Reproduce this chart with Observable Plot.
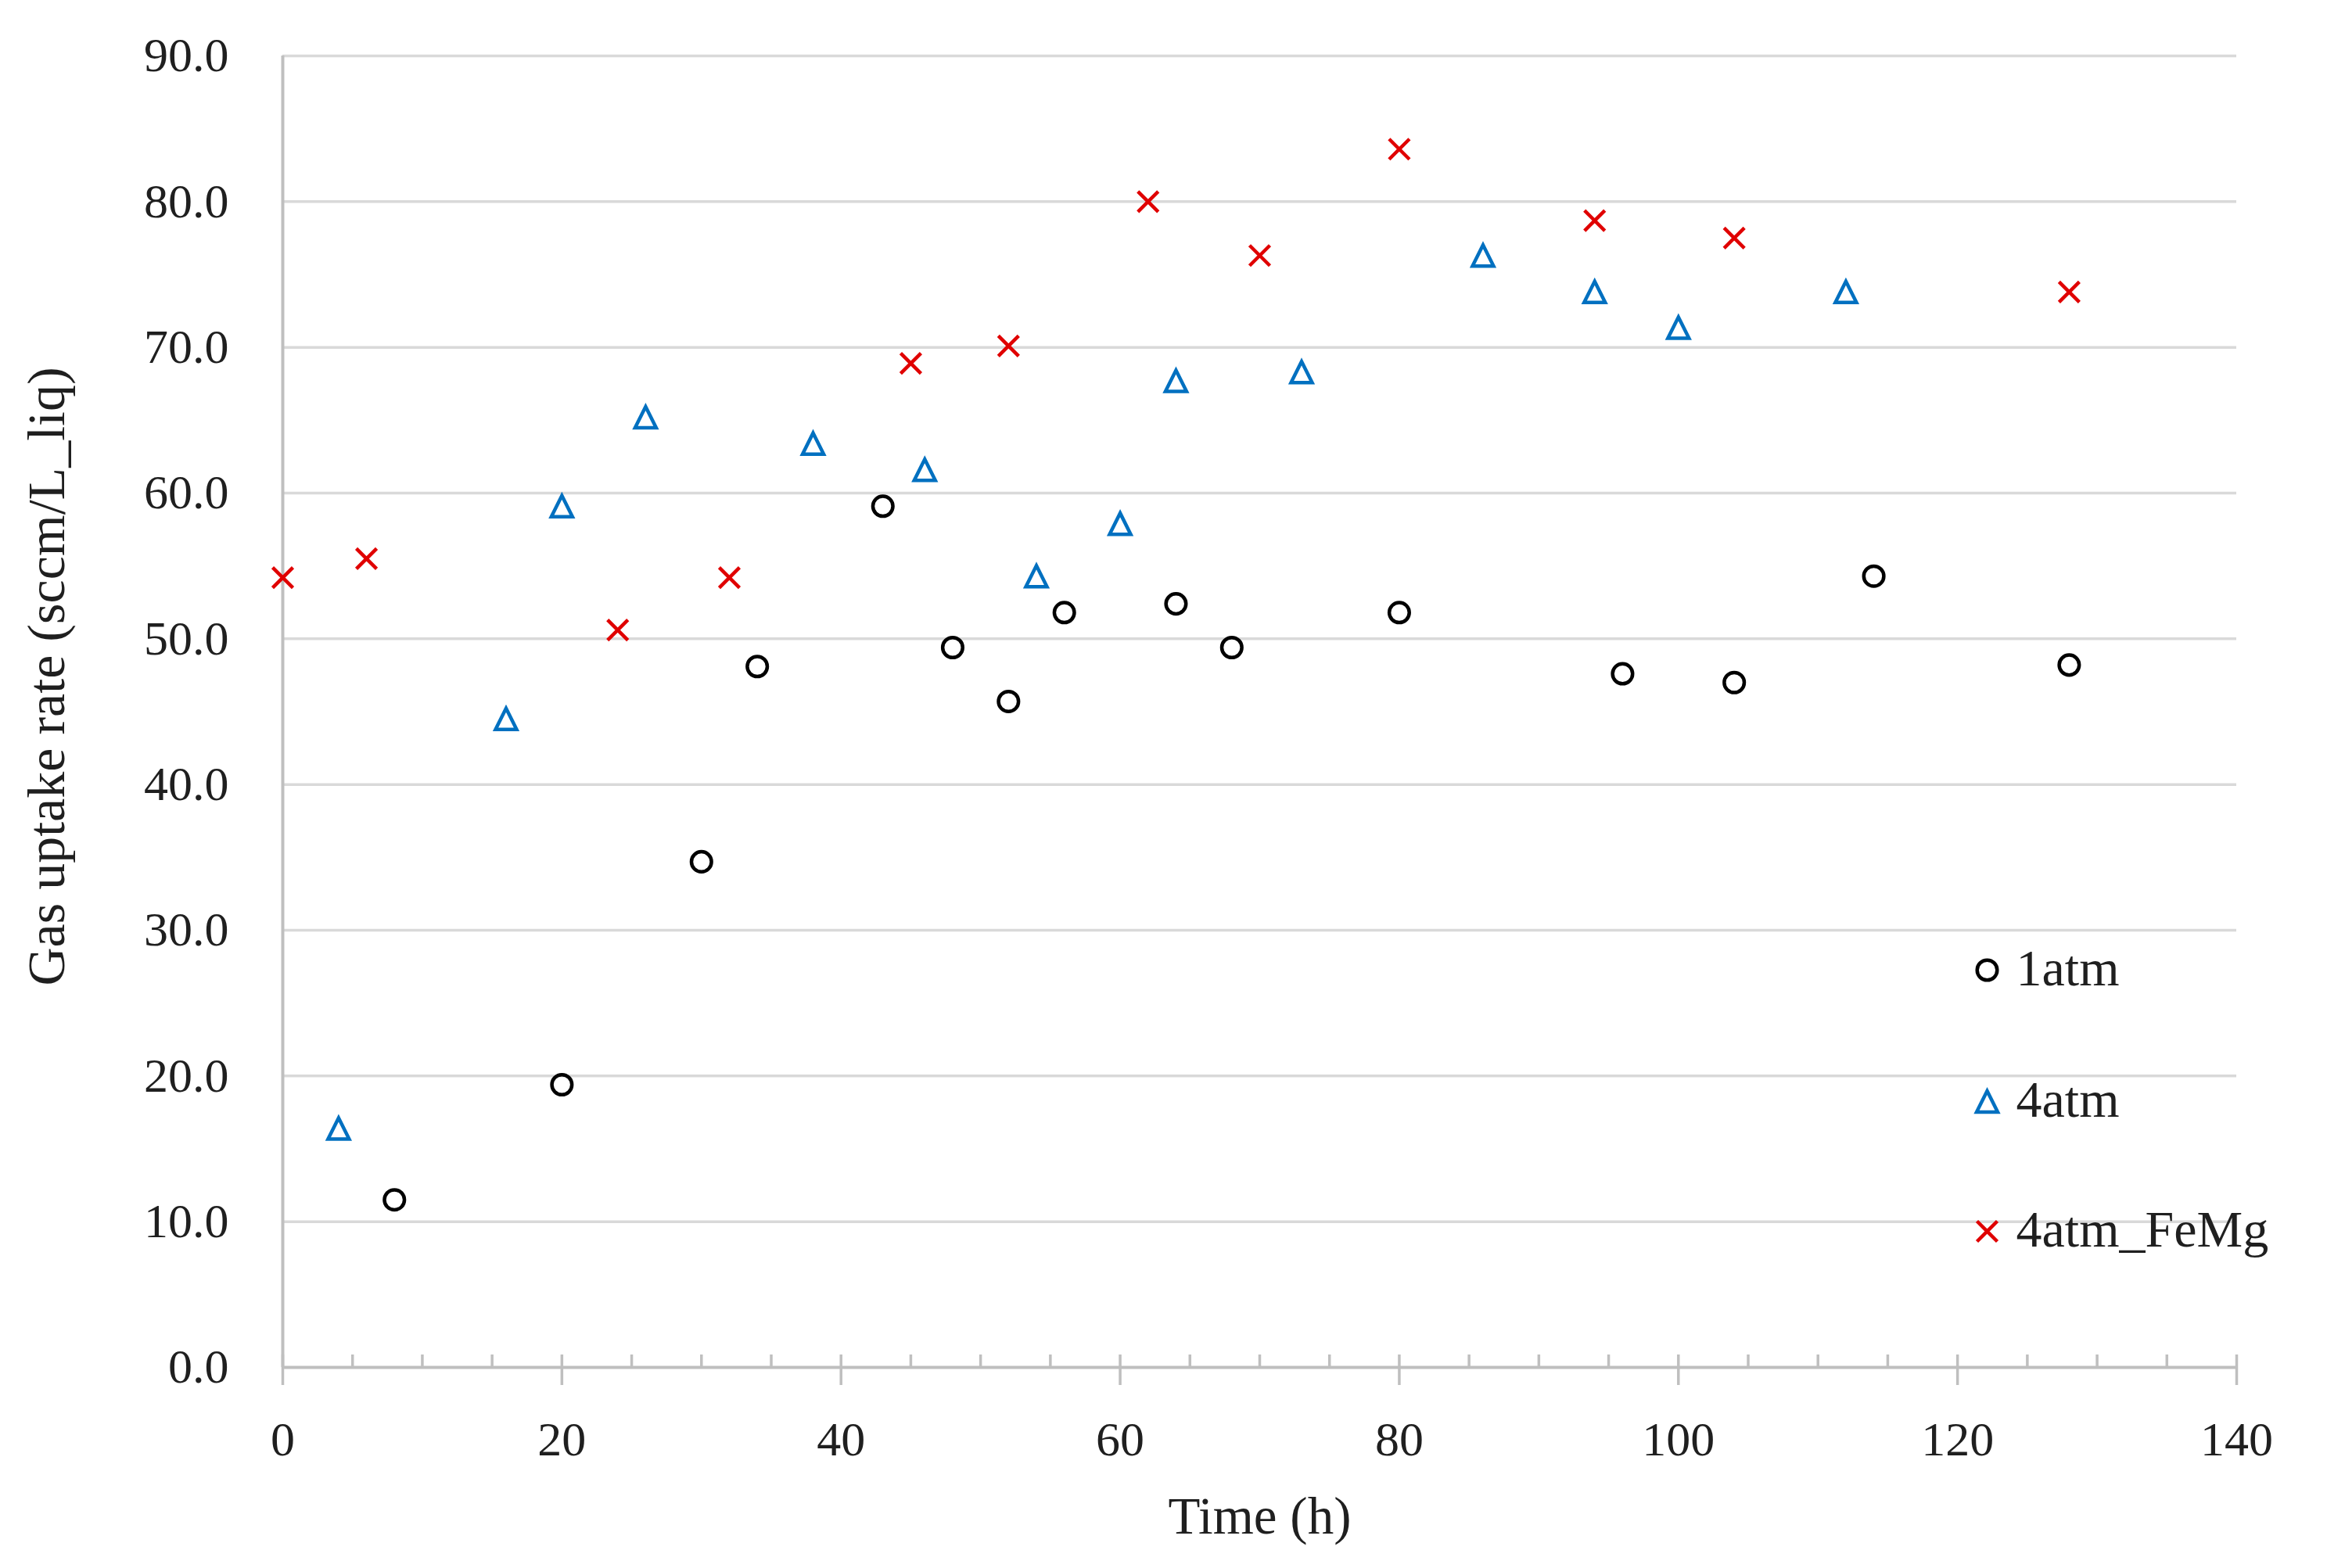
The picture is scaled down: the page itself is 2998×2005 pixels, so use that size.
<!DOCTYPE html>
<html>
<head>
<meta charset="utf-8">
<script src="https://cdn.jsdelivr.net/npm/d3@7"></script>
<script src="https://cdn.jsdelivr.net/npm/@observablehq/plot@0.6"></script>
<style>
  html, body { margin: 0; padding: 0; background: #ffffff; }
  #chart svg { display: block; }
</style>
</head>
<body>
<div id="chart"></div>
<script>
// ---- data ----
const seriesNames = ["1atm", "4atm", "4atm_FeMg"];

const time1atm = [8, 20, 30, 34, 43, 48, 52, 56, 64, 68, 80, 96, 104, 114, 128];
const rate1atm = [11.5, 19.4, 34.7, 48.1, 59.1, 49.4, 45.7, 51.8, 52.4, 49.4, 51.8, 47.6, 47.0, 54.3, 48.2];

const time4atm = [4, 16, 20, 26, 38, 46, 54, 60, 64, 73, 86, 94, 100, 112];
const rate4atm = [16.4, 44.5, 59.1, 65.2, 63.4, 61.6, 54.3, 57.9, 67.7, 68.3, 76.3, 73.8, 71.35, 73.8];

const timeFeMg = [0, 6, 24, 32, 45, 52, 62, 70, 80, 94, 104, 128];
const rateFeMg = [54.2, 55.5, 50.6, 54.2, 68.9, 70.1, 80.0, 76.3, 83.6, 78.7, 77.5, 73.8];

const xMajorTicks = [0, 20, 40, 60, 80, 100, 120, 140];
const xMinorTicks = [5, 10, 15, 25, 30, 35, 45, 50, 55, 65, 70, 75, 85, 90, 95, 105, 110, 115, 125, 130, 135];
const yTicks = [0, 10, 20, 30, 40, 50, 60, 70, 80, 90];
const xTitle = "Time (h)";
const yTitle = "Gas uptake rate (sccm/L_liq)";

// ---- tables ----
const toRows = (xs, ys, s) => xs.map((x, i) => ({time: x, rate: ys[i], series: s}));
const rows1 = toRows(time1atm, rate1atm, seriesNames[0]);
const rows4 = toRows(time4atm, rate4atm, seriesNames[1]);
const rowsFe = toRows(timeFeMg, rateFeMg, seriesNames[2]);

// ---- custom symbols (Excel-like markers) ----
const triangleSym = {
  draw(ctx, size) {
    const h = Math.sqrt(size / Math.PI);
    ctx.moveTo(0, -h);
    ctx.lineTo(h, h);
    ctx.lineTo(-h, h);
    ctx.closePath();
  }
};
const timesSym = {
  draw(ctx, size) {
    const h = Math.sqrt(size / Math.PI);
    ctx.moveTo(-h, -h);
    ctx.lineTo(h, h);
    ctx.moveTo(-h, h);
    ctx.lineTo(h, -h);
  }
};

// ---- layout / style ----
const W = 2998, H = 2005;
const mL = 361, mR = 139, mT = 71, mB = 257;
const frameH = H - mT - mB;
const gridColor = "#d9d9d9";
const axisColor = "#bfbfbf";
const textColor = "#1f1f1f";
const c1 = "#000000", c4 = "#0070c0", cFe = "#e00000";
const sw = 4.5;

const markerStyles = [
  {symbol: "circle", stroke: c1, r: 12.8},
  {symbol: triangleSym, stroke: c4, r: 13.5},
  {symbol: timesSym, stroke: cFe, r: 13}
];
const legendDy = [1169, 1337, 1503];

const legendMarks = seriesNames.flatMap((name, i) => [
  Plot.dot([name], {
    frameAnchor: "top-left", dx: 2179, dy: legendDy[i],
    symbol: markerStyles[i].symbol, r: markerStyles[i].r,
    stroke: markerStyles[i].stroke, fill: "none", strokeWidth: sw, strokeLinejoin: "miter"
  }),
  Plot.text([name], {
    text: d => d, frameAnchor: "top-left", dx: 2216, dy: legendDy[i] - 2,
    textAnchor: "start", lineAnchor: "middle", fontSize: 66, fill: textColor
  })
]);

const chart = Plot.plot({
  width: W,
  height: H,
  marginLeft: mL,
  marginRight: mR,
  marginTop: mT,
  marginBottom: mB,
  x: {domain: [0, 140]},
  y: {domain: [0, 90]},
  style: {
    fontFamily: "'Liberation Serif', 'Times New Roman', serif",
    fontSize: "62px",
    color: textColor,
    background: "#ffffff"
  },
  marks: [
    Plot.ruleY(yTicks.filter(d => d > 0), {y: d => d, stroke: gridColor, strokeWidth: 3.5}),
    Plot.ruleX(xMinorTicks, {x: d => d, stroke: axisColor, strokeWidth: 3.5, insetTop: frameH - 16}),
    Plot.ruleX(xMajorTicks, {x: d => d, stroke: axisColor, strokeWidth: 3.5, insetTop: frameH - 16, insetBottom: -23}),
    Plot.ruleX([0], {x: d => d, stroke: axisColor, strokeWidth: 4}),
    Plot.ruleY([0], {y: d => d, stroke: axisColor, strokeWidth: 4}),
    Plot.axisY({ticks: yTicks, tickSize: 0, tickPadding: 69, tickFormat: d3.format(".1f"), label: null, fill: textColor}),
    Plot.axisX({ticks: xMajorTicks, tickSize: 0, tickPadding: 68, tickFormat: d => String(d), label: null, fill: textColor}),
    Plot.dot(rows1, {x: "time", y: "rate", symbol: "circle", r: markerStyles[0].r, stroke: c1, fill: "none", strokeWidth: sw}),
    Plot.dot(rows4, {x: "time", y: "rate", symbol: triangleSym, r: markerStyles[1].r, stroke: c4, fill: "none", strokeWidth: sw, strokeLinejoin: "miter"}),
    Plot.dot(rowsFe, {x: "time", y: "rate", symbol: timesSym, r: markerStyles[2].r, stroke: cFe, fill: "none", strokeWidth: sw}),
    Plot.text([xTitle], {text: d => d, frameAnchor: "bottom", dy: 191, textAnchor: "middle", lineAnchor: "middle", fontSize: 67, fill: textColor}),
    Plot.text([yTitle], {text: d => d, frameAnchor: "left", dx: -301, dy: -45, rotate: -90, textAnchor: "middle", lineAnchor: "middle", fontSize: 68, fill: textColor}),
    ...legendMarks
  ]
});

document.getElementById("chart").appendChild(chart);
</script>
</body>
</html>
